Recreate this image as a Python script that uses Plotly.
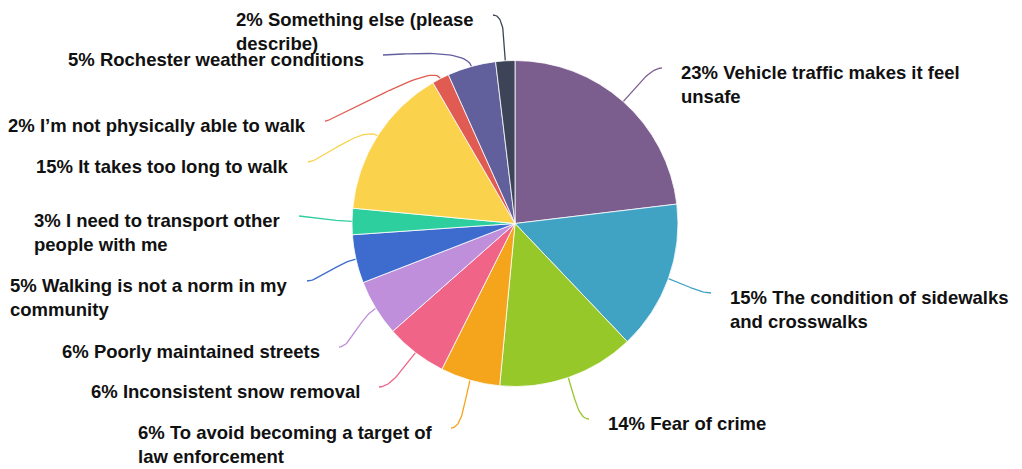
import math
import plotly.graph_objects as go

# Reasons for not walking more (share of responses, %)
categories = [
    "Vehicle traffic makes it feel\nunsafe",
    "The condition of sidewalks\nand crosswalks",
    "Fear of crime",
    "To avoid becoming a target of\nlaw enforcement",
    "Inconsistent snow removal",
    "Poorly maintained streets",
    "Walking is not a norm in my\ncommunity",
    "I need to transport other\npeople with me",
    "It takes too long to walk",
    "I\u2019m not physically able to walk",
    "Rochester weather conditions",
    "Something else (please\ndescribe)",
]
shares = [23.1, 14.8, 13.6, 5.9, 6.1, 5.6, 4.8, 2.6, 15.1, 1.7, 4.8, 1.9]
colors = [
    "#7b5e8e", "#41a3c4", "#97c82a", "#f4a51c", "#f06487", "#bf8fdb",
    "#3e6cce", "#2ecf9f", "#fbd24b", "#e05c52", "#625f9d", "#3d4457",
]

# Layout (pixel units, origin top-left)
W, H = 1022, 469
CX, CY, R = 515, 223.5, 163
# where each leader line ends (label side)
label_anchor = [
    (662, 68), (711, 293), (589, 419), (451, 428), (379, 387), (339, 347),
    (307, 281), (299, 216), (308, 162), (325, 121), (383, 55), (493, 15),
]
FONT_SIZE = 18.5
TEXT_GAP = 18

fig = go.Figure()

fig.add_trace(go.Pie(
    values=shares,
    labels=[c.replace("\n", " ") for c in categories],
    marker=dict(colors=colors, line=dict(color="white", width=0.8)),
    sort=False,
    direction="clockwise",
    rotation=0,
    textinfo="none",
    hoverinfo="label+percent",
    showlegend=False,
    domain=dict(
        x=[(CX - R) / W, (CX + R) / W],
        y=[(H - CY - R) / H, (H - CY + R) / H],
    ),
))


def dist(p, q):
    return math.hypot(q[0] - p[0], q[1] - p[1])


total = sum(shares)
cum = 0.0
annotations = []
for cat, val, col, end in zip(categories, shares, colors, label_anchor):
    mid = (cum + val / 2) / total
    cum += val
    th = 2 * math.pi * mid
    s, c = math.sin(th), math.cos(th)
    p0 = (CX + R * s, CY - R * c)
    right = end[0] > CX

    # leader: leaves the rim radially, arrives at the label heading sideways
    span = dist(p0, end)
    k1 = min(20.0, 0.45 * span)
    k2 = min(12.0, 0.25 * span)
    c1 = (p0[0] + k1 * s, p0[1] - k1 * c)
    c2 = (end[0] - k2 if right else end[0] + k2, end[1])
    xs, ys = [], []
    for k in range(31):
        t = k / 30
        u = 1 - t
        xs.append(u**3 * p0[0] + 3 * u * u * t * c1[0] + 3 * u * t * t * c2[0] + t**3 * end[0])
        ys.append(u**3 * p0[1] + 3 * u * u * t * c1[1] + 3 * u * t * t * c2[1] + t**3 * end[1])
    fig.add_trace(go.Scatter(
        x=xs, y=ys, mode="lines", line=dict(color=col, width=1.3),
        hoverinfo="skip", showlegend=False,
    ))

    pct = round(val / total * 100)
    lines = f"{pct}% {cat}".split("\n")
    annotations.append(dict(
        x=end[0] + TEXT_GAP if right else end[0] - TEXT_GAP,
        y=end[1] + 4.5 + (len(lines) - 1) * 0.65 * FONT_SIZE,
        xref="x", yref="y",
        text="<br>".join(lines),
        showarrow=False,
        xanchor="left" if right else "right",
        yanchor="middle",
        align="left",
        borderpad=0,
        font=dict(family="Liberation Sans, Arial, sans-serif", size=FONT_SIZE,
                  color="#111111", weight="bold"),
    ))

fig.update_layout(
    width=W, height=H,
    margin=dict(l=0, r=0, t=0, b=0),
    paper_bgcolor="white", plot_bgcolor="white",
    xaxis=dict(range=[0, W], visible=False, fixedrange=True),
    yaxis=dict(range=[H, 0], visible=False, fixedrange=True),
    annotations=annotations,
)

fig.write_html("out.html")
